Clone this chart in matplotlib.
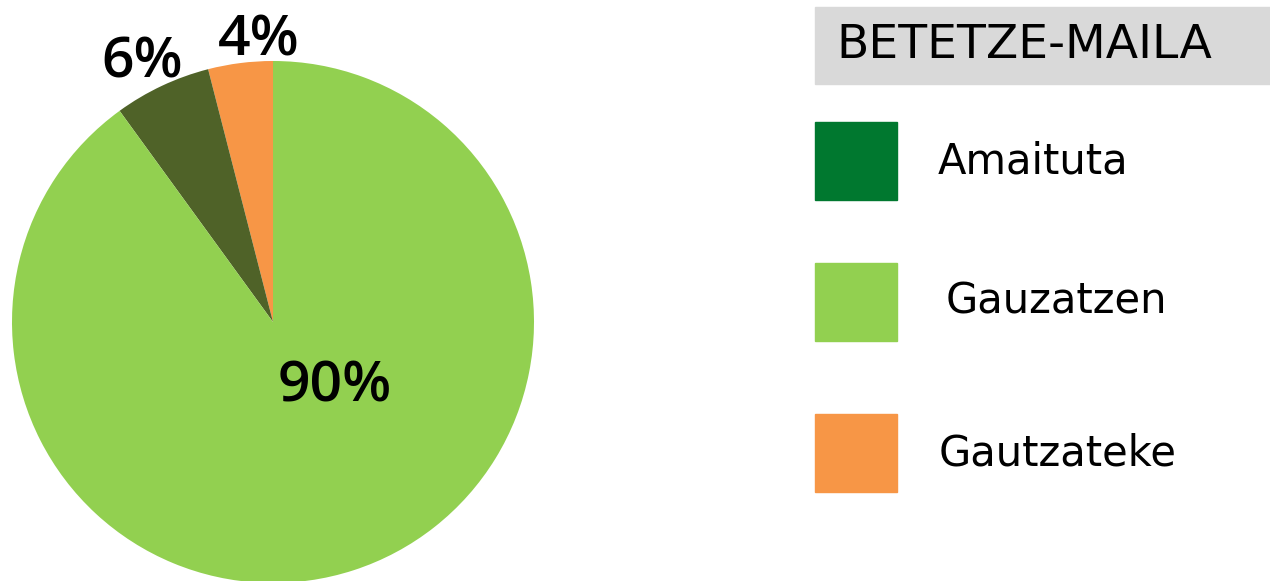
import matplotlib.pyplot as plt
from matplotlib.patches import Rectangle

# data
slice_values = [4, 6, 90]
slice_colors = ['#F79646', '#4F6228', '#92D050']
slice_labels = ['4%', '6%', '90%']

legend_title = 'BETETZE-MAILA'
legend_names = ['Amaituta', 'Gauzatzen', 'Gautzateke']
legend_colors = ['#00782F', '#92D050', '#F79646']

W, H = 1270, 581
fig = plt.figure(figsize=(W / 100, H / 100), dpi=100)

# pie axes placed so the circle sits at (273, 322) px with radius 261 px
cx, cy, r = 273, 322, 261
ax = fig.add_axes([(cx - r) / W, (H - cy - r) / H, 2 * r / W, 2 * r / H])
ax.pie(slice_values, colors=slice_colors, startangle=90, counterclock=True,
       radius=1, wedgeprops={'linewidth': 0})
ax.set_xlim(-1, 1)
ax.set_ylim(-1, 1)
ax.set_aspect('equal')
ax.axis('off')

# label positions (data coords, as placed in the original)
label_pos = [(-0.055, 1.075), (-0.50, 0.99), (0.238, -0.252)]
for txt, (x, y) in zip(slice_labels, label_pos):
    ax.text(x, y, txt, ha='center', va='center', fontsize=41,
            fontweight='semibold', family='Open Sans', color='black',
            clip_on=False)

# legend drawn in pixel layout
def px(x, y):
    return x / W, 1 - y / H

fig.patches.append(Rectangle(px(815, 84), (W - 815) / W, 77 / H,
                             transform=fig.transFigure, color='#D9D9D9'))
fig.text(*px(836, 46), legend_title, ha='left', va='center', fontsize=34,
         family='DejaVu Sans', color='black')

box_tops = [122, 263, 414]
text_x = [938, 946, 939]
for name, col, top, tx in zip(legend_names, legend_colors, box_tops, text_x):
    fig.patches.append(Rectangle(px(815, top + 78), 82 / W, 78 / H,
                                 transform=fig.transFigure, color=col))
    fig.text(*px(tx, top + 39), name, ha='left', va='center', fontsize=30,
             family='DejaVu Sans', color='black')

fig.savefig('out.png', dpi=100)
